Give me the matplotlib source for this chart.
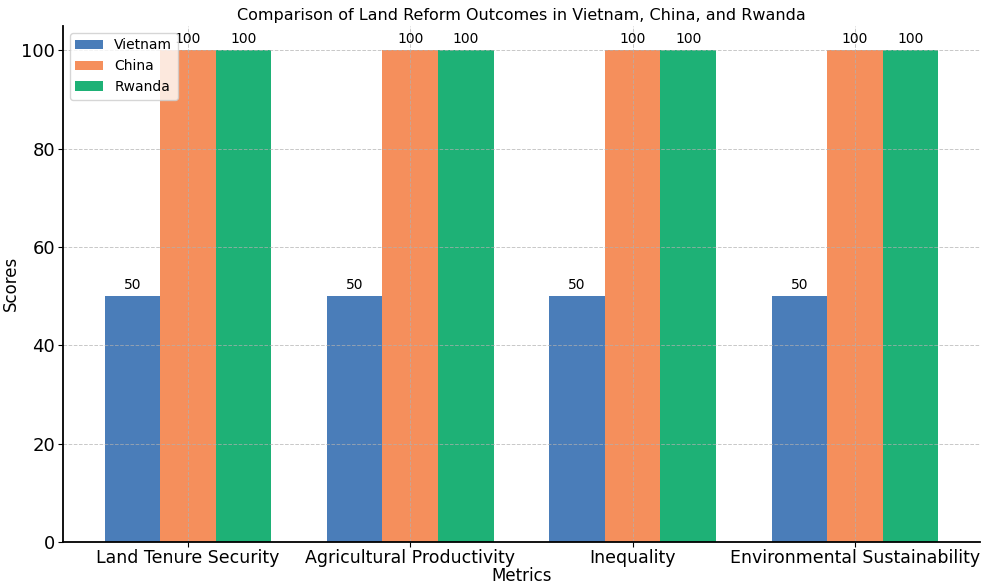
import matplotlib.pyplot as plt
import numpy as np

metrics = ['Land Tenure Security', 'Agricultural Productivity', 'Inequality', 'Environmental Sustainability']
countries = ['Vietnam', 'China', 'Rwanda']
vietnam = [50, 50, 50, 50]
china = [100, 100, 100, 100]
rwanda = [100, 100, 100, 100]
colors = ['#4a7db9', '#f58f5c', '#1eb176']


def main():
    fig = plt.figure(figsize=(9.82, 5.87), dpi=100)
    ax = fig.add_axes([0.064, 0.077, 0.934, 0.879])

    x = np.arange(len(metrics))
    w = 0.25
    for i, (name, vals) in enumerate(zip(countries, [vietnam, china, rwanda])):
        bars = ax.bar(x + (i - 1) * w, vals, w, label=name, color=colors[i])
        ax.bar_label(bars, padding=3, fontsize=10)

    ax.set_title('Comparison of Land Reform Outcomes in Vietnam, China, and Rwanda', fontsize=11.5, pad=4)
    ax.set_xlabel('Metrics', fontsize=12, labelpad=0)
    ax.set_ylabel('Scores', fontsize=12, labelpad=1)
    ax.set_xticks(x)
    ax.set_xticklabels(metrics, fontsize=12.5)
    ax.tick_params(axis='y', labelsize=13, pad=2)
    ax.tick_params(axis='x', pad=2)
    ax.set_ylim(0, 105)
    ax.spines['top'].set_visible(False)
    ax.spines['right'].set_visible(False)
    ax.spines['left'].set_linewidth(1.3)
    ax.spines['bottom'].set_linewidth(1.3)
    ax.grid(True, linestyle='--', linewidth=0.7, color='#b0b0b0', alpha=0.7)
    ax.legend(loc='upper left', fontsize=10, framealpha=0.8, borderaxespad=0.5)

    fig.savefig('out.png', dpi=100)


main()
